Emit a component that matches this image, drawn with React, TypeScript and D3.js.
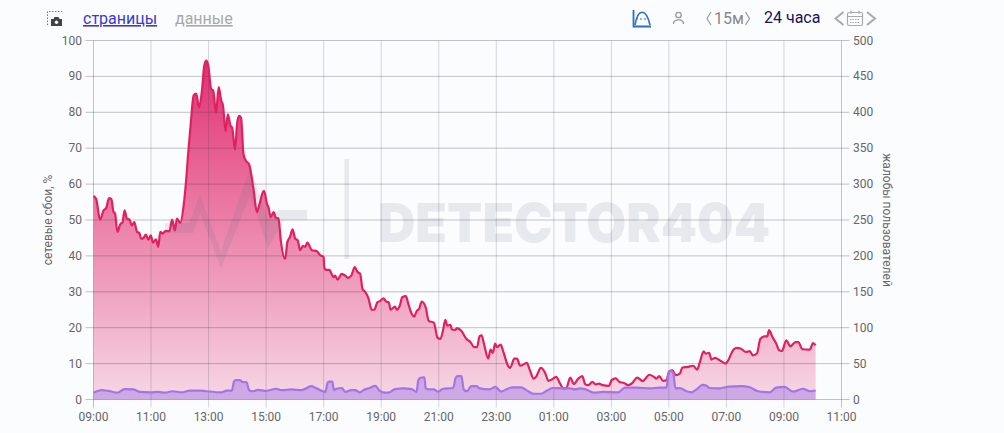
import React from "react";
import * as d3 from "d3";

// hours since 09:00
const complaintHours = [0,.09,.23,.35,.44,.54,.62,.69,.75,.83,.93,1.01,1.08,1.16,1.25,1.33,1.42,1.51,1.59,1.66,1.74,1.82,1.91,1.99,2.07,2.17,2.25,2.32,2.41,2.49,2.64,2.73,2.83,2.9,3.01,3.14,3.21,3.3,3.39,3.48,3.57,3.67,3.77,3.85,3.92,3.99,4.09,4.16,4.26,4.35,4.44,4.5,4.59,4.67,4.76,4.82,4.92,4.99,5.06,5.13,5.21,5.29,5.41,5.56,5.68,5.76,5.89,5.93,6.03,6.08,6.16,6.26,6.34,6.43,6.51,6.66,6.74,6.83,6.92,7.01,7.1,7.18,7.28,7.36,7.43,7.59,7.76,7.88,8.0,8.02,8.09,8.2,8.29,8.35,8.4,8.48,8.63,8.75,8.84,8.96,9.08,9.18,9.27,9.35,9.45,9.56,9.67,9.76,9.87,9.96,10.08,10.17,10.26,10.33,10.48,10.54,10.65,10.73,10.86,10.94,11.06,11.15,11.23,11.32,11.41,11.55,11.65,11.83,11.96,12.06,12.15,12.23,12.3,12.41,12.46,12.58,12.64,12.79,12.96,13.1,13.23,13.33,13.42,13.49,13.57,13.72,13.8,13.88,13.96,14.03,14.15,14.25,14.4,14.48,14.63,14.72,14.83,15.06,15.17,15.3,15.38,15.55,15.7,15.81,15.93,16.08,16.22,16.33,16.43,16.57,16.7,16.85,16.99,17.09,17.2,17.34,17.46,17.57,17.7,17.92,18.01,18.15,18.28,18.44,18.59,18.73,18.9,19.09,19.32,19.48,19.57,19.66,19.8,19.92,20.01,20.12,20.24,20.38,20.47,20.67,20.84,20.98,21.08,21.21,21.28,21.4,21.48,21.6,21.77,21.97,22.03,22.25,22.37,22.49,22.69,22.81,22.92,23.06,23.18,23.33,23.42,23.48,23.6,23.73,23.83,23.93,24.08,24.22,24.4,24.5,24.64,24.9,25.01,25.1];
// read on the left (percent) scale
const complaintValues = [56.7,55.9,50.1,52.7,53.3,56.1,55.9,52.4,51.8,46.7,48.8,49.4,52.7,50.4,50.1,48.5,49.4,46.7,46.4,44.8,45,45.9,44.5,45.7,43.7,44.6,42.5,46.7,46.2,46.9,46.9,50.1,47.1,50.4,49.2,54.5,60.1,69.4,77.7,84.7,85.2,81.4,86.1,93,94.4,93,86.5,86.1,79.8,87,83.3,81.9,74.8,79.4,76.3,75.7,69.6,76.8,79,78.5,68.5,66.6,65.5,58.7,52.2,54.1,57.8,58.1,54.5,53.6,50.8,52.2,50.6,50.4,44.3,39.2,43.9,45.3,47.4,44.8,44.3,41.6,42.8,42.5,43.7,41.6,41.3,40.2,39.7,36.9,36.1,36.1,34.7,34.1,34.5,33.4,35,34.5,33.9,34.5,36.9,35.5,35,30.8,29.9,28.1,25,25,27.1,27.4,28.2,27.3,27.1,25,25.9,25,26.2,28.5,28.8,26.7,23.9,23.1,24.6,25.3,27.3,25.6,21.9,21.4,17.2,16.9,19.3,22.2,20.6,20.8,19.5,19.4,19.9,19.1,16.9,16,14.6,14.6,17.6,17.9,15.6,11.4,13.9,13,15.6,14.6,15.3,13.2,9.5,8.8,11.4,11.4,9.4,10.2,8.1,5.8,6.3,8.8,7.4,5.2,5.6,6.3,4.4,3.1,3.1,6.1,4.3,5.8,6.5,4.3,4,4.9,4.2,4.4,4,3.8,5.4,5.9,4.9,4.6,4,4.6,6.1,5.1,6.9,6.3,5.8,6.5,5.2,5.4,7.9,8.1,6.8,7.2,8.9,9.1,9.4,8.3,10.5,13.4,12.8,13,11.1,11.6,10.9,10,10.5,13.9,14.4,14.2,13.2,13.5,12.3,12.8,16.9,17.6,17.6,19.3,17.4,15.6,13.7,13.5,16.5,14.8,16,16,14,13.9,15.7,15.1];

const failureHours = [0,.29,.52,.83,1.08,1.39,1.62,1.97,2.25,2.49,2.74,3.06,3.35,3.7,3.93,4.45,4.62,4.81,4.88,4.95,5.09,5.17,5.32,5.41,5.55,5.72,6,6.36,6.53,6.88,7.23,7.57,7.75,8.06,8.13,8.18,8.3,8.36,8.44,8.64,8.75,8.96,9.1,9.25,9.42,9.6,9.79,9.96,10.13,10.25,10.48,10.77,11.06,11.23,11.29,11.35,11.5,11.55,11.69,11.83,11.98,12.15,12.5,12.58,12.65,12.79,12.87,12.98,13.13,13.31,13.42,13.77,13.97,14.17,14.34,14.57,14.86,15.09,15.29,15.55,15.79,15.96,16.33,16.57,16.74,16.91,17.09,17.38,17.72,18.24,18.47,18.88,19.34,19.69,19.92,19.98,20.06,20.15,20.23,20.38,20.61,20.79,20.96,21.17,21.31,21.42,21.71,22.11,22.52,22.81,23.1,23.5,23.73,24.02,24.31,24.66,24.9,25.1];
const failureValues = [1.9,2.6,2.4,1.9,2.9,2.8,2.1,2,2.1,1.9,2.3,2,2.5,2.5,2.3,2,2.5,2.5,4.9,5.4,5.4,4.9,4.8,2.6,2.3,2.7,2.4,3,2.6,2.8,2.6,3.7,3.1,2.1,4.5,5,5,2.6,3,3.2,2.1,2.6,2.6,2,2.8,3.2,3.8,2.4,1.9,1.9,2.9,3.1,2.9,2.1,5.4,6,6.2,3.1,2.8,2.8,2.2,3,3.2,5.8,6.5,6.5,2.8,2.3,3.7,3.7,3.1,2.8,3.5,2.2,2.8,3.4,3.4,2.4,1.6,1.6,2.6,3.2,3.1,3.1,2.8,3.1,2.9,1.9,2.1,2,3.3,3.3,3.1,3.3,3.3,7.2,8,7.4,3.1,3.2,2.3,2,2.8,4.1,3.8,3.2,3.1,3.6,3.7,3.4,2.3,2,3.3,3.5,2.2,3,2.3,2.5];

const xTickHours = [0,2,4,6,8,10,12,14,16,18,20,22,24,26];
const xTickLabels = ["09:00","11:00","13:00","15:00","17:00","19:00","21:00","23:00","01:00","03:00","05:00","07:00","09:00","11:00"];
const leftTicks = [0,10,20,30,40,50,60,70,80,90,100];
const rightTicks = [0,50,100,150,200,250,300,350,400,450,500];

const FONT = "Roboto, sans-serif";
const M = { l: 93.5, r: 841.5, t: 40.5, b: 399.5 };

export default function App() {
  const x = d3.scaleLinear().domain([0, 26]).range([M.l, M.r]);
  const yL = d3.scaleLinear().domain([0, 100]).range([M.b, M.t]);
  const yR = d3.scaleLinear().domain([0, 500]).range([M.b, M.t]);

  const pts1 = complaintHours.map((h, i) => [h, complaintValues[i]] as [number, number]);
  const pts2 = failureHours.map((h, i) => [h, failureValues[i]] as [number, number]);
  const line = d3.line<[number, number]>().x(d => x(d[0])).y(d => yL(d[1])).curve(d3.curveMonotoneX);
  const area = d3.area<[number, number]>().x(d => x(d[0])).y0(M.b).y1(d => yL(d[1])).curve(d3.curveMonotoneX);

  return (
    <svg width={1004} height={433} style={{ position: "absolute", left: 0, top: 0, display: "block", background: "#fbfcfe" }} fontFamily={FONT}>
      <defs>
        <linearGradient id="pinkFill" gradientUnits="userSpaceOnUse" x1="0" y1={60} x2="0" y2={M.b}>
          <stop offset="0" stopColor="#e0256a" stopOpacity={0.95} />
          <stop offset="1" stopColor="#e0256a" stopOpacity={0.17} />
        </linearGradient>
      </defs>

      {/* areas */}
      <path d={area(pts1) || ""} fill="url(#pinkFill)" />
      <path d={area(pts2) || ""} fill="#b48ae6" fillOpacity={0.6} />

      {/* watermark */}
      <g opacity={0.13} fill="#5f6f86">
        <path d="M165 223 H189 L200 195 L221 251 L250 168 L268 218 L279 210 H307 V220 H284 L268 248 L250 195 L221 268 L200 213 L193 233 H165 Z" />
        <rect x={344.5} y={159} width={4.5} height={100} />
        <text x={378} y={242} fontSize={54} fontWeight={900} fontFamily="Inter, Roboto, sans-serif" textLength={392} lengthAdjust="spacingAndGlyphs">DETECTOR404</text>
      </g>

      {/* grid */}
      {xTickHours.map(h => (
        <line key={h} x1={x(h)} x2={x(h)} y1={M.t} y2={M.b + 8} stroke="#3c3c50" strokeOpacity={h === 0 || h === 26 ? 0.3 : 0.2} />
      ))}
      {leftTicks.map(v => (
        <line key={v} x1={M.l - 8} x2={M.r + 8} y1={yL(v)} y2={yL(v)} stroke="#3c3c46" strokeOpacity={0.3} />
      ))}

      {/* lines */}
      <path d={line(pts1) || ""} fill="none" stroke="#e0205f" strokeWidth={2.2} />
      <path d={line(pts2) || ""} fill="none" stroke="#a374e6" strokeWidth={2.2} />

      {/* tick labels */}
      <g fontSize={12} fill="#666">
        {leftTicks.map(v => (
          <text key={v} x={82} y={yL(v) + 4} textAnchor="end">{v}</text>
        ))}
        {rightTicks.map(v => (
          <text key={v} x={853} y={yR(v) + 4}>{v}</text>
        ))}
        {xTickHours.map((h, i) => (
          <text key={h} x={x(h)} y={421} textAnchor="middle">{xTickLabels[i]}</text>
        ))}
        <text transform="translate(52,220) rotate(-90)" textAnchor="middle" fontSize={12}>сетевые сбои, %</text>
        <text transform="translate(883,220) rotate(90)" textAnchor="middle" fontSize={12}>жалобы пользователей</text>
      </g>

      {/* header */}
      <g>
        <path d="M47.5 25 V11.5 H62" fill="none" stroke="#777" strokeDasharray="1.5 1.5" />
        <path d="M51 19 h2.5 l1 -2 h4 l1 2 h2.5 v7 h-11 z" fill="#444" />
        <circle cx={56.5} cy={22.3} r={1.7} fill="#fbfcfe" />
      </g>
      <text x={83} y={24} fontSize={16} fill="#3a3ad0" textDecoration="underline">страницы</text>
      <text x={175} y={24} fontSize={16} fill="#a9a9a9" textDecoration="underline">данные</text>

      <g fill="none" stroke="#2a6fc0">
        <path d="M633.5 10 V26.5 H651" strokeWidth={1.8} />
        <path d="M635 25 C638 8 646 8 650 25" strokeWidth={1.6} />
        <path d="M636 19 H649" strokeDasharray="2 2" strokeWidth={1} />
      </g>
      <g fill="none" stroke="#999" strokeWidth={1.3}>
        <circle cx={678.5} cy={15} r={2.7} />
        <path d="M673.5 24 C673.5 18.5 683.5 18.5 683.5 24" />
      </g>

      <path d="M711 12 L707 18.5 L711 25" fill="none" stroke="#999" strokeWidth={1.2} />
      <text x={714} y={24} fontSize={16} fill="#888">15м</text>
      <path d="M745.5 12 L749.5 18.5 L745.5 25" fill="none" stroke="#999" strokeWidth={1.2} />
      <text x={764} y={23} fontSize={16} fill="#14145c">24 часа</text>

      <path d="M843.5 12 L835.5 18.5 L843.5 25" fill="none" stroke="#aaa" strokeWidth={2} />
      <g fill="none" stroke="#aaa" strokeWidth={1.2}>
        <rect x={847.5} y={12.5} width={15} height={13} rx={1.5} />
        <path d="M847.5 16.5 H862.5 M851 10.5 V14 M859 10.5 V14" />
        <path d="M850 19.5 H860 M850 22.5 H860" strokeDasharray="1.5 1" />
      </g>
      <path d="M867 12 L875 18.5 L867 25" fill="none" stroke="#aaa" strokeWidth={2} />
    </svg>
  );
}
